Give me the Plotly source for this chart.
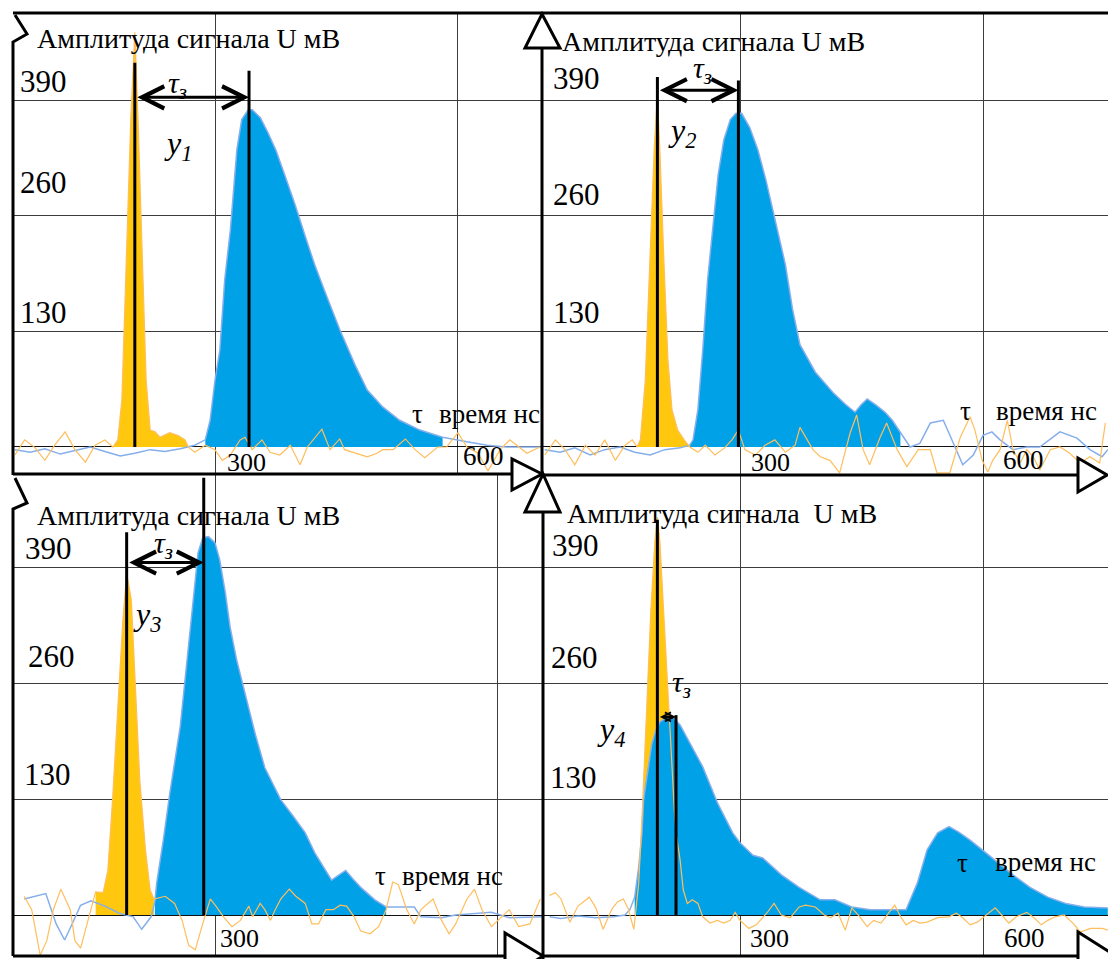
import plotly.graph_objects as go

W, H = 1108, 959

# ---------------- data: time (ns) / amplitude (mV) ----------------
# Panel 1 (top-left)
p1_orange_t = [53, 65, 78, 90, 102, 115, 127, 140, 152, 164, 174, 180, 185, 191, 196, 201, 205, 210, 215, 220,
               226, 232, 244, 254, 263, 267, 275, 288, 300, 309, 319, 331, 337, 346, 358, 368, 380, 393, 405, 414,
               432, 442, 454, 460, 473, 488, 500, 507, 520, 535, 547, 559, 575, 586, 600, 611, 625, 637, 652, 664,
               685, 701]
p1_orange_u = [-9, 8, -1, -15, 2, 17, -3, -17, 2, 8, 0, 8, 53, 221, 368, 466, 368, 221, 75, 19,
               17, 11, 16, 13, 8, 0, -6, 2, -3, -15, -9, 8, 11, -3, 8, -6, -9, 2, -20, 0,
               20, -3, 9, -3, -7, -11, -7, -3, -3, 9, -3, -12, 0, 0, 16, 0, -7, -27, -3, 8,
               -7, 0]
p1_blue_t = [53, 72, 90, 109, 127, 146, 164, 183, 201, 220, 238, 257, 275, 288, 294, 300, 306, 312, 319, 322,
             327, 333, 341, 346, 356, 365, 375, 386, 399, 411, 423, 436, 454, 473, 488, 507, 528, 553, 581, 611,
             636, 660, 693, 702]
p1_blue_u = [-3, -6, -2, -8, -4, 0, -5, -10, -7, -3, -5, -2, 2, 8, 30, 75, 109, 188, 244, 278,
             334, 368, 379, 379, 370, 354, 334, 306, 272, 238, 205, 174, 132, 92, 64, 45, 30, 19, 11, 6,
             2, 0, 0, 0]
p1_yellow_window = [174, 267]
p1_blue_window = [288, 581]

# Panel 2 (top-right)
p2_orange_t = [59, 72, 84, 96, 109, 121, 133, 146, 158, 167, 173, 177, 183, 189, 194, 198, 201, 206, 211, 216,
               223, 231, 238, 248, 257, 269, 281, 290, 298, 306, 319, 331, 343, 356, 368, 374, 390, 399, 411, 423,
               436, 444, 452, 460, 473, 481, 494, 506, 520, 535, 543, 559, 572, 584, 590, 599, 606, 612, 621, 630,
               637, 646, 654, 662, 670, 683, 695, 707, 720, 732, 744, 751]
p2_orange_u = [-9, 8, -3, -20, 2, -9, 8, -15, 2, 8, 0, 8, 75, 221, 334, 396, 334, 210, 98, 42,
               19, 8, 0, -6, 2, -9, -1, 8, 19, -3, -9, 2, 8, -6, 2, 22, -3, -11, -15, -29,
               16, 36, -3, -20, 11, 27, -3, -22, -3, -3, -29, -29, 11, 34, 19, -15, -28, -15, -3, 30,
               -3, -18, -3, -11, -26, -3, 0, -7, -18, -11, -18, 27]
p2_blue_t = [59, 78, 96, 115, 133, 152, 170, 189, 207, 226, 238, 242, 248, 254, 260, 267, 273, 280, 288, 295,
             302, 312, 322, 332, 343, 356, 365, 374, 393, 415, 430, 442, 449, 457, 468, 479, 488, 498, 510, 522,
             535, 551, 563, 575, 588, 600, 611, 621, 637, 654, 670, 695, 716, 732, 747, 754]
p2_blue_u = [-3, -6, -1, -9, -3, 0, -6, -9, -3, -1, 2, 8, 42, 109, 188, 255, 306, 345, 368, 375,
             375, 359, 334, 300, 255, 205, 154, 115, 84, 61, 48, 39, 47, 54, 47, 39, 30, 16, 0, 4,
             27, 30, 4, -20, -9, 13, 17, 8, -3, 0, 0, 17, 10, -3, -11, -3]
p2_yellow_window = [173, 238]
p2_blue_window = [238, 498]

# Panel 3 (bottom-left)
p3_orange_t = [97, 105, 114, 121, 128, 136, 146, 151, 157, 163, 173, 181, 186, 191, 197, 202, 206, 211, 215, 220,
               226, 231, 235, 247, 257, 265, 272, 279, 286, 295, 301, 309, 318, 327, 336, 340, 348, 353, 359, 364,
               370, 379, 386, 396, 403, 410, 418, 426, 433, 440, 448, 455, 465, 474, 482, 489, 495, 504, 512, 519,
               532, 541, 549, 556, 568, 576, 584, 594, 601, 613, 623, 635, 646]
p3_orange_u = [21, 6, -45, -29, 6, 29, 6, -29, -37, -13, 26, 25, 50, 129, 241, 331, 383, 353, 263, 151,
               73, 28, 18, 21, 13, -6, -34, -39, -13, 18, 10, -2, -13, -6, 10, -2, 13, 6, -6, 6,
               18, 29, 21, 13, -10, -10, 6, 6, 11, 10, -2, -18, -21, -13, 6, 37, 34, 6, -10, 6,
               18, -6, -21, -10, 18, 29, 6, -13, -6, 6, -13, -10, 18]
p3_blue_t = [97, 109, 120, 131, 140, 148, 157, 168, 183, 198, 213, 222, 232, 236, 238, 245, 252, 263, 270, 277,
             282, 287, 293, 300, 305, 311, 316, 323, 332, 343, 353, 362, 370, 383, 396, 406, 415, 424, 432, 439,
             447, 455, 470, 482, 489, 512, 519, 541, 556, 594, 613, 638, 649]
p3_blue_u = [18, 21, 24, -10, -28, -10, 11, 16, 10, 2, -2, -16, -2, 15, 36, 84, 137, 211, 286, 361,
             406, 423, 424, 417, 398, 361, 323, 286, 249, 202, 165, 146, 129, 111, 92, 70, 54, 39, 45, 50,
             40, 31, 17, 9, 9, 9, -2, -3, 0, 3, -3, -2, -2]
p3_yellow_window = [173, 235]
p3_blue_window = [236, 482]

# Panel 4 (bottom-right)
p4_orange_t = [65, 72, 79, 90, 100, 114, 122, 131, 142, 149, 156, 162, 169, 175, 180, 185, 190, 195, 198, 201,
               205, 210, 215, 219, 221, 226, 230, 235, 241, 248, 254, 263, 272, 280, 288, 294, 300, 311, 320, 333,
               342, 351, 362, 373, 381, 393, 404, 412, 421, 430, 438, 448, 457, 465, 474, 483, 491, 499, 505, 514,
               522, 531, 544, 558, 567, 575, 584, 593, 601, 615, 623, 632, 641, 654, 663, 672, 680, 689, 700, 711,
               720, 733, 747, 754]
p4_orange_u = [22, 25, 18, -8, 10, 20, 8, -16, 7, 15, 18, 7, -16, 36, 129, 241, 342, 420, 446, 420,
               352, 263, 173, 117, 92, 62, 28, 13, 17, 13, -2, -9, -6, -9, -6, 3, -6, -15, -11, 2,
               13, 0, -3, 9, 11, 9, 0, -3, 2, -17, 8, -2, -13, -6, -9, 2, 11, -3, -11, -6,
               -9, -8, -3, -2, 2, -3, -11, -8, -2, 8, 0, -9, -2, 3, -3, -11, -6, -2, 0, -9,
               -19, -15, -15, -17]
p4_blue_t = [65, 79, 100, 122, 144, 158, 164, 170, 175, 179, 181, 186, 191, 196, 201, 210, 217, 226, 238, 254,
             272, 291, 300, 316, 328, 351, 373, 399, 417, 438, 461, 485, 505, 519, 531, 544, 558, 570, 584, 599,
             619, 637, 658, 680, 702, 725, 754]
p4_blue_u = [-2, -4, -1, -3, -2, 0, 6, 20, 54, 92, 129, 163, 191, 207, 216, 222, 222, 213, 193, 166,
             126, 92, 81, 67, 64, 45, 31, 17, 17, 9, 6, 6, 6, 36, 73, 92, 99, 93, 84, 73,
             58, 45, 31, 20, 13, 9, 8]
p4_yellow_window = [175, 235]
p4_blue_window = [170, 754]

# delay markers (ns), tops of the marker lines (mV), arrow level (mV)
marker_t = [[201, 342], [198, 298], [206, 288], [198, 221]]
marker_top = [[432, 423], [416, 412], [429, 490], [443, 224]]
arrow_level = [393, 401, 395, 222]
tau_label_pos = [[254, 407], [254, 424], [245, 415], [228, 259]]
y_label_pos = [[254, 339], [228, 353], [228, 334], [141, 206]]
y_label_text = ["y<sub>1</sub>", "y<sub>2</sub>", "y<sub>3</sub>", "y<sub>4</sub>"]

grid_t = [300, 600]
grid_u = [130, 260, 390]

# ---------------- styling / layout ----------------
YELLOW = "#FFC80F"
BLUE = "#00A1E6"
BLUE_LINE = "#85AEEC"
ORANGE_LINE = "#FFBE5C"
FONT = "Liberation Serif"

panels = [
    dict(t_o=p1_orange_t, u_o=p1_orange_u, t_b=p1_blue_t, u_b=p1_blue_u, yw=p1_yellow_window, bw=p1_blue_window,
         xdom=[13, 541], ydom=[13, 475], xr=[50.6, 702.5], yr=[-31.5, 487.8]),
    dict(t_o=p2_orange_t, u_o=p2_orange_u, t_b=p2_blue_t, u_b=p2_blue_u, yw=p2_yellow_window, bw=p2_blue_window,
         xdom=[541, 1108], ydom=[13, 475], xr=[54.3, 754.3], yr=[-31.5, 487.8]),
    dict(t_o=p3_orange_t, u_o=p3_orange_u, t_b=p3_blue_t, u_b=p3_blue_u, yw=p3_yellow_window, bw=p3_blue_window,
         xdom=[13, 543], ydom=[475, 955], xr=[85.1, 648.9], yr=[-44.8, 493.1]),
    dict(t_o=p4_orange_t, u_o=p4_orange_u, t_b=p4_blue_t, u_b=p4_blue_u, yw=p4_yellow_window, bw=p4_blue_window,
         xdom=[543, 1108], ydom=[475, 955], xr=[56.8, 754.3], yr=[-44.8, 493.1]),
]


def window(t, u, w):
    pts = [(a, max(b, 0)) for a, b in zip(t, u) if w[0] <= a <= w[1]]
    return [p[0] for p in pts], [p[1] for p in pts]


def PX(x):
    return x / W


def PY(y):
    return 1 - y / H


def path(points, close=False):
    s = "M " + " L ".join(f"{PX(x):.5f},{PY(y):.5f}" for x, y in points)
    return s + (" Z" if close else "")


fig = go.Figure()
shapes = []
annotations = []
layout_axes = {}

for i, p in enumerate(panels, start=1):
    xn = "x" if i == 1 else f"x{i}"
    yn = "y" if i == 1 else f"y{i}"
    xkey = "xaxis" if i == 1 else f"xaxis{i}"
    ykey = "yaxis" if i == 1 else f"yaxis{i}"
    layout_axes[xkey] = dict(domain=[PX(p["xdom"][0]), PX(p["xdom"][1])], range=p["xr"], anchor=yn,
                             tickvals=grid_t, showticklabels=False, ticks="", showgrid=True,
                             gridcolor="#3c3c3c", gridwidth=1, zeroline=False, showline=False, fixedrange=True)
    layout_axes[ykey] = dict(domain=[PY(p["ydom"][1]), PY(p["ydom"][0])], range=p["yr"], anchor=xn,
                             tickvals=grid_u, showticklabels=False, ticks="", showgrid=True,
                             gridcolor="#3c3c3c", gridwidth=1, zeroline=True, zerolinecolor="#111",
                             zerolinewidth=1, showline=False, fixedrange=True)

    yt, yu = window(p["t_o"], p["u_o"], p["yw"])
    fig.add_trace(go.Scatter(x=yt, y=yu, xaxis=xn, yaxis=yn, mode="lines", fill="tozeroy",
                             fillcolor=YELLOW, line=dict(width=0, color=YELLOW), showlegend=False,
                             hoverinfo="skip"))
    bt, bu = window(p["t_b"], p["u_b"], p["bw"])
    fig.add_trace(go.Scatter(x=bt, y=bu, xaxis=xn, yaxis=yn, mode="lines", fill="tozeroy",
                             fillcolor=BLUE, line=dict(width=0, color=BLUE), showlegend=False,
                             hoverinfo="skip"))
    fig.add_trace(go.Scatter(x=p["t_b"], y=p["u_b"], xaxis=xn, yaxis=yn, mode="lines",
                             line=dict(width=1.5, color=BLUE_LINE), showlegend=False, hoverinfo="skip"))
    fig.add_trace(go.Scatter(x=p["t_o"], y=p["u_o"], xaxis=xn, yaxis=yn, mode="lines",
                             line=dict(width=1.2, color=ORANGE_LINE), showlegend=False, hoverinfo="skip"))

    k = i - 1
    for t, top in zip(marker_t[k], marker_top[k]):
        shapes.append(dict(type="line", xref=xn, yref=yn, x0=t, x1=t, y0=0, y1=top,
                           line=dict(color="black", width=3)))
    small = (i == 4)
    annotations.append(dict(x=marker_t[k][1], y=arrow_level[k], ax=marker_t[k][0], ay=arrow_level[k],
                            xref=xn, yref=yn, axref=xn, ayref=yn, text=" ", showarrow=True,
                            arrowside="end+start", arrowhead=5, startarrowhead=5,
                            arrowsize=0.6 if small else 1.45, startarrowsize=0.6 if small else 1.45,
                            arrowwidth=3, arrowcolor="black", standoff=0, startstandoff=0,
                            font=dict(family=FONT, size=6)))
    annotations.append(dict(x=tau_label_pos[k][0], y=tau_label_pos[k][1], xref=xn, yref=yn,
                            text="<i>τ<sub>з</sub></i>", showarrow=False,
                            font=dict(family=FONT, size=30, color="black")))
    annotations.append(dict(x=y_label_pos[k][0], y=y_label_pos[k][1], xref=xn, yref=yn,
                            text=f"<i>{y_label_text[k]}</i>", showarrow=False,
                            font=dict(family=FONT, size=32, color="black")))

# ---------------- text labels (pixel positions of the original) ----------------
texts = [
    ("Амплитуда сигнала U мВ", 35, 39, 28), ("390", 18, 81, 31), ("260", 18, 182, 31), ("130", 18, 313, 31),
    ("300", 225, 462, 26), ("600", 461, 456, 27), ("τ", 410, 414, 27), ("время нс", 437, 414, 27),
    ("Амплитуда сигнала U мВ", 560, 42, 28), ("390", 551, 78, 31), ("260", 551, 195, 31), ("130", 551, 313, 31),
    ("300", 749, 463, 26), ("600", 1001, 460, 27), ("τ", 958, 411, 27), ("время нс", 994, 411, 27),
    ("Амплитуда сигнала U мВ", 35, 515, 28), ("390", 23, 548, 31), ("260", 26, 656, 31), ("130", 22, 774, 31),
    ("300", 218, 938, 26), ("τ", 373, 876, 27), ("время нс", 400, 876, 27),
    ("Амплитуда сигнала  U мВ", 565, 513, 28), ("390", 550, 545, 31), ("260", 549, 657, 31),
    ("130", 548, 777, 31), ("300", 748, 938, 26), ("600", 1002, 938, 27), ("τ", 955, 863, 27),
    ("время нс", 993, 862, 27),
]
for s, x, y, sz in texts:
    annotations.append(dict(x=PX(x), y=PY(y), xref="paper", yref="paper", xanchor="left", yanchor="middle",
                            text=s, showarrow=False, font=dict(family=FONT, size=sz, color="black")))

# ---------------- frame decorations (axes with arrows) ----------------
K = dict(color="black", width=3)


def deco(points, close=False, fill=None):
    d = dict(type="path", xref="paper", yref="paper", path=path(points, close), line=K, layer="above")
    if fill:
        d["fillcolor"] = fill
    return d


shapes += [
    deco([(13, 13), (1108, 13)]),
    deco([(15, 15), (27, 34), (13, 42), (13, 475)]),
    deco([(13, 474), (512, 474)]),
    deco([(512, 459), (512, 490), (542, 474)], True, "white"),
    deco([(542, 48), (542, 474)]),
    deco([(525, 48), (560, 48), (542, 14)], True, "white"),
    deco([(542, 475), (1078, 475)]),
    deco([(1078, 458), (1078, 492), (1107, 475)], True, "white"),
    deco([(15, 478), (27, 503), (13, 509), (13, 956)]),
    deco([(13, 956), (505, 956)]),
    deco([(505, 933), (505, 980), (543, 956)], True, "white"),
    deco([(543, 512), (543, 959)]),
    deco([(525, 512), (560, 512), (543, 474)], True, "white"),
    deco([(543, 956), (1078, 956)]),
    deco([(1078, 932), (1078, 980), (1116, 956)], True, "white"),
]

fig.update_layout(width=W, height=H, margin=dict(l=0, r=0, t=0, b=0), paper_bgcolor="white",
                  plot_bgcolor="white", showlegend=False, shapes=shapes, annotations=annotations,
                  hovermode=False, font=dict(family=FONT), **layout_axes)

fig.write_html("out.html", config={"displayModeBar": False},
               post_script="document.body.style.margin='0px';document.body.style.overflow='hidden';")
